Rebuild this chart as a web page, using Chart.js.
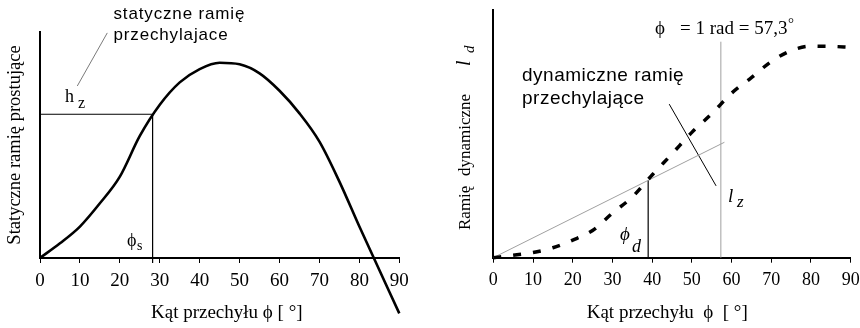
<!DOCTYPE html>
<html><head><meta charset="utf-8">
<script src="https://cdn.jsdelivr.net/npm/chart.js@4/dist/chart.umd.min.js"></script>
<style>
html,body{margin:0;padding:0;background:#fff;}
#wrap{position:relative;width:860px;height:328px;overflow:hidden;}
canvas{position:absolute;top:0;}
#c1{left:0}
#c2{left:430px}
</style></head><body>
<div id="wrap"><canvas id="c1" width="430" height="328"></canvas><canvas id="c2" width="430" height="328"></canvas></div>
<script>
// ---- data ----
const angleTicks = [0, 10, 20, 30, 40, 50, 60, 70, 80, 90];
const phiStatic = [0, 5, 10, 15, 20, 25, 30, 35, 40, 45, 50, 55, 60, 65, 70, 75, 80, 85, 90];
const staticArm = [0, 0.065, 0.139, 0.242, 0.36, 0.54, 0.678, 0.777, 0.836, 0.864, 0.857, 0.817, 0.74, 0.64, 0.515, 0.338, 0.139, -0.053, -0.245];
const phiS = 28.2, hz = 0.636;
const leftLeaderX = [9.34, 16.85], leftLeaderY = [0.761, 0.996];

const phiDyn = [0, 5, 10, 15, 20, 25, 30, 35, 40, 45, 50, 55, 60, 65, 70, 75, 80, 85, 90];
const dynamicArm = [0, 0.01, 0.021, 0.04, 0.071, 0.11, 0.18, 0.245, 0.334, 0.419, 0.506, 0.581, 0.664, 0.727, 0.792, 0.836, 0.854, 0.853, 0.85];
const phiD = 39, ldAtPhiD = 0.314;
const oneRad = 57.3, radLineTop = 0.872;
const tangentX = [0, 58.2], tangentY = [0, 0.466];
const rightLeaderX = [44.3, 56.1], rightLeaderY = [0.62, 0.29];

// ---- texts ----
const xTitleLeft = '   Kąt przechyłu ϕ [ °]';
const xTitleRight = 'Kąt przechyłu  ϕ  [ °]  ';
const yTitleLeft = 'Statyczne ramię prostujące';
const yTitleRight = ['Ramię', 'dynamiczne', 'l', 'd'];
const leftNote = ['statyczne ramię', 'przechylajace'];
const rightNote = ['dynamiczne ramię', 'przechylające'];
const radNote = ['ϕ', '= 1 rad = 57,3', '°'];

const pts = (xs, ys) => xs.map((x, i) => ({x, y: ys[i]}));
const SERIF = '"Liberation Serif", "DejaVu Serif", serif';
const SANS = '"Liberation Sans", Arial, sans-serif';

function xScale(h) {
  return {
    type: 'linear', min: 0, max: 90,
    afterBuildTicks: s => { s.ticks = angleTicks.map(v => ({value: v})); },
    ticks: {color: '#000', font: {family: SERIF, size: 19}, padding: 7, maxRotation: 0, autoSkip: false},
    grid: {display: true, drawOnChartArea: false, drawTicks: true, tickLength: 5, color: '#000', tickWidth: 1},
    border: {display: true, color: '#000', width: 2},
    afterFit: s => { s.height = h; s.paddingLeft = 0; s.paddingRight = 0; }
  };
}

const annotLeft = {
  id: 'annL',
  afterDraw(chart) {
    const ctx = chart.ctx;
    ctx.save();
    ctx.fillStyle = '#000';
    ctx.textAlign = 'left';
    ctx.textBaseline = 'alphabetic';
    ctx.font = '17px ' + SANS;
    ctx.letterSpacing = '0.85px';
    ctx.fillText(leftNote[0], 113.5, 19);
    ctx.fillText(leftNote[1], 113.5, 40);
    ctx.letterSpacing = '0px';
    ctx.font = '18px ' + SERIF;
    ctx.fillText('h', 65, 102);
    ctx.font = '16px ' + SERIF;
    ctx.fillText('z', 78, 108);
    ctx.font = '18px ' + SERIF;
    ctx.fillText('ϕ', 127, 246);
    ctx.font = '14px ' + SERIF;
    ctx.fillText('s', 137, 250);
    ctx.restore();
  }
};

const annotRight = {
  id: 'annR',
  afterDraw(chart) {
    const ctx = chart.ctx;
    ctx.save();
    ctx.fillStyle = '#000';
    ctx.textAlign = 'left';
    ctx.textBaseline = 'alphabetic';
    // phi = 1 rad
    ctx.font = '19px ' + SERIF;
    ctx.fillText(radNote[0], 225, 34);
    ctx.fillText(radNote[1], 250, 34);
    const w = ctx.measureText(radNote[1]).width;
    ctx.font = '15px ' + SERIF;
    ctx.fillText(radNote[2], 250 + w + 0.5, 28);
    // note
    ctx.font = '19px ' + SANS;
    ctx.letterSpacing = '0.5px';
    ctx.fillText(rightNote[0], 92, 81);
    ctx.fillText(rightNote[1], 92, 104);
    ctx.letterSpacing = '0px';
    // l_z
    ctx.font = 'italic 19px ' + SERIF;
    ctx.fillText('l', 298, 202);
    ctx.font = 'italic 17px ' + SERIF;
    ctx.fillText('z', 307, 207);
    // phi_d
    ctx.font = 'italic 19px ' + SERIF;
    ctx.fillText('ϕ', 190, 240);
    ctx.font = 'italic 18px ' + SERIF;
    ctx.fillText('d', 202, 252);
    // y title (rotated)
    ctx.translate(40, 230);
    ctx.rotate(-Math.PI / 2);
    ctx.font = '17px ' + SERIF;
    ctx.fillText(yTitleRight[0], 0, 0);
    ctx.fillText(yTitleRight[1], 54, 0);
    ctx.font = 'italic 20px ' + SERIF;
    ctx.fillText(yTitleRight[2], 164, 0);
    ctx.font = 'italic 15px ' + SERIF;
    ctx.fillText(yTitleRight[3], 177, 4);
    ctx.restore();
  }
};

const common = {
  responsive: false, animation: false, devicePixelRatio: 1,
  plugins: {legend: {display: false}, tooltip: {enabled: false}},
  elements: {point: {radius: 0}}
};

new Chart(document.getElementById('c1'), {
  type: 'line',
  data: {datasets: [
    {data: pts(phiStatic, staticArm), borderColor: '#000', borderWidth: 2.6, cubicInterpolationMode: 'monotone', pointRadius: 0, clip: false, fill: false},
    {data: pts([0, phiS, phiS], [hz, hz, -0.022]), borderColor: '#000', borderWidth: 1, tension: 0, pointRadius: 0, clip: false},
    {data: pts(leftLeaderX, leftLeaderY), borderColor: '#7a7a7a', borderWidth: 1, tension: 0, pointRadius: 0, clip: false}
  ]},
  options: Object.assign({}, common, {
    layout: {padding: {left: 0, top: 32, right: 30.7, bottom: 0}},
    scales: {
      x: Object.assign(xScale(70), {
        title: {display: true, text: xTitleLeft, color: '#000', font: {family: SERIF, size: 19}, padding: {top: 0, bottom: 3.6}}
      }),
      y: {
        min: 0, max: 1,
        ticks: {display: false}, grid: {display: false},
        border: {display: true, color: '#000', width: 2},
        title: {display: true, text: yTitleLeft, color: '#000', font: {family: SERIF, size: 18.5}, padding: {top: 4.2, bottom: 0}},
        afterFit: s => { s.width = 40; s.paddingTop = 0; s.paddingBottom = 0; }
      }
    }
  }),
  plugins: [annotLeft]
});

new Chart(document.getElementById('c2'), {
  type: 'line',
  data: {datasets: [
    {data: pts(phiDyn, dynamicArm), borderColor: '#000', borderWidth: 3.5, borderDash: [8, 12], borderCapStyle: 'butt', cubicInterpolationMode: 'monotone', pointRadius: 0, clip: false, fill: false},
    {data: pts(tangentX, tangentY), borderColor: '#a0a0a0', borderWidth: 1, tension: 0, pointRadius: 0, clip: false},
    {data: pts([oneRad, oneRad], [0, radLineTop]), borderColor: '#a0a0a0', borderWidth: 1, tension: 0, pointRadius: 0, clip: false},
    {data: pts([phiD, phiD], [0, ldAtPhiD]), borderColor: '#000', borderWidth: 1.2, tension: 0, pointRadius: 0, clip: false},
    {data: pts(rightLeaderX, rightLeaderY), borderColor: '#000', borderWidth: 1, tension: 0, pointRadius: 0, clip: false}
  ]},
  options: Object.assign({}, common, {
    layout: {padding: {left: 0, top: 10, right: 9.3, bottom: 0}},
    scales: {
      x: Object.assign(xScale(70.3), {
        ticks: {color: '#000', font: {family: SERIF, size: 18}, padding: 7, maxRotation: 0, autoSkip: false},
        title: {display: true, text: xTitleRight, color: '#000', font: {family: SERIF, size: 19}, padding: {top: 0, bottom: 3.6}}
      }),
      y: {
        min: 0, max: 1,
        ticks: {display: false}, grid: {display: false},
        border: {display: true, color: '#000', width: 2},
        title: {display: false},
        afterFit: s => { s.width = 63.3; s.paddingTop = 0; s.paddingBottom = 0; }
      }
    }
  }),
  plugins: [annotRight]
});
</script>
</body></html>
